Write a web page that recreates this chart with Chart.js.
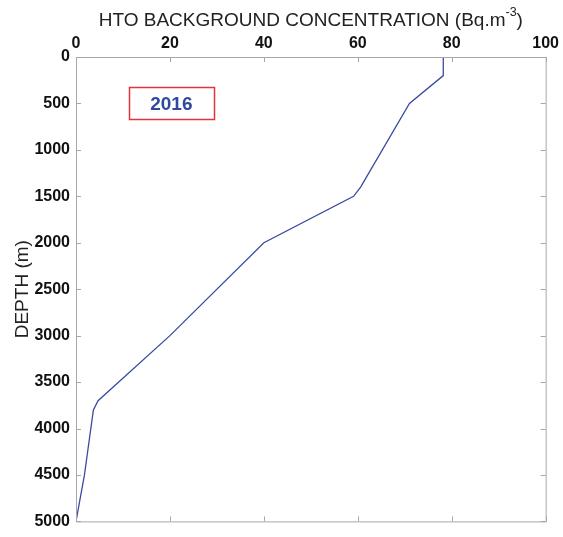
<!DOCTYPE html>
<html>
<head>
<meta charset="utf-8">
<script src="https://cdn.jsdelivr.net/npm/chart.js@4.4.1/dist/chart.umd.min.js"></script>
<style>
  html, body { margin: 0; padding: 0; background: #fff; }
  #wrap { width: 563px; height: 537px; }
</style>
</head>
<body>
<div id="wrap"><canvas id="profile"></canvas></div>
<script>
// HTO profile: concentration (Bq/m3) against depth (m)
const concentration = [78.2, 78.2, 71, 60.6, 59.1, 40, 20, 4.7, 3.7, 1.8, 0];
const depth = [0, 200, 500, 1400, 1500, 2000, 3000, 3700, 3800, 4500, 5000];
const xTicks = [0, 20, 40, 60, 80, 100];
const yTicks = [0, 500, 1000, 1500, 2000, 2500, 3000, 3500, 4000, 4500, 5000];
const yearLabel = "2016";
const yearAt = { x: 20.3, y: 500 };

const points = concentration.map((c, i) => ({ x: c, y: depth[i] }));
const FONT = "'Liberation Sans', Arial, sans-serif";

const frame = {
    id: "frame",
    afterDraw(chart) {
        const ctx = chart.ctx;
        const a = chart.chartArea;
        const xs = chart.scales.x, ys = chart.scales.y;
        ctx.save();

        // box round the plot
        ctx.strokeStyle = "#a8a8a8";
        ctx.lineWidth = 1;
        ctx.strokeRect(a.left + 0.5, a.top + 0.5, a.right - a.left, a.bottom - a.top);

        // inner tick marks on all four sides
        ctx.beginPath();
        xTicks.forEach(v => {
            const px = Math.round(xs.getPixelForValue(v)) + 0.5;
            ctx.moveTo(px, a.top); ctx.lineTo(px, a.top + 5);
            ctx.moveTo(px, a.bottom); ctx.lineTo(px, a.bottom - 5);
        });
        yTicks.forEach(v => {
            const py = Math.round(ys.getPixelForValue(v)) + 0.5;
            ctx.moveTo(a.left, py); ctx.lineTo(a.left + 5, py);
            ctx.moveTo(a.right, py); ctx.lineTo(a.right - 5, py);
        });
        ctx.stroke();

        // x title with superscript
        const mid = (a.left + a.right) / 2;
        const big = "19px " + FONT, small = "12.5px " + FONT;
        ctx.fillStyle = "#222";
        ctx.textBaseline = "alphabetic";
        ctx.textAlign = "left";
        const main = "HTO BACKGROUND CONCENTRATION (Bq.m";
        ctx.font = small;
        const supW = ctx.measureText("-3").width;
        ctx.font = big;
        const mainW = ctx.measureText(main).width;
        const closeW = ctx.measureText(")").width;
        const tx = mid - (mainW + supW + closeW) / 2;
        ctx.fillText(main, tx, 26);
        ctx.font = small;
        ctx.fillText("-3", tx + mainW, 16);
        ctx.font = big;
        ctx.fillText(")", tx + mainW + supW, 26);

        // y title
        ctx.save();
        ctx.translate(28, (a.top + a.bottom) / 2);
        ctx.rotate(-Math.PI / 2);
        ctx.textAlign = "center";
        ctx.font = "19px " + FONT;
        ctx.fillText("DEPTH (m)", 0, 0);
        ctx.restore();

        // year box
        const bx = xs.getPixelForValue(yearAt.x);
        const by = ys.getPixelForValue(yearAt.y);
        ctx.font = "bold 19px " + FONT;
        ctx.textAlign = "center";
        ctx.textBaseline = "middle";
        ctx.fillStyle = "#2f4a9c";
        ctx.fillText(yearLabel, bx, by + 1);
        ctx.strokeStyle = "#e0343a";
        ctx.lineWidth = 1.5;
        ctx.strokeRect(Math.round(bx - 42) + 0.5, Math.round(by - 16) + 0.5, 85, 32);

        ctx.restore();
    }
};

const tickFont = { family: FONT, size: 16, weight: "bold" };

new Chart(document.getElementById("profile"), {
    type: "scatter",
    data: {
        datasets: [{
            data: points,
            showLine: true,
            borderColor: "#3a4aa0",
            borderWidth: 1.3,
            pointRadius: 0,
            tension: 0
        }]
    },
    options: {
        responsive: true,
        maintainAspectRatio: false,
        animation: false,
        layout: { padding: { top: 0, right: 2, bottom: 8, left: 0 } },
        plugins: { legend: { display: false }, tooltip: { enabled: false } },
        scales: {
            x: {
                position: "top",
                min: 0, max: 100,
                afterBuildTicks: s => { s.ticks = xTicks.map(v => ({ value: v })); },
                afterFit: s => { s.height = 57; },
                grid: { display: false, drawTicks: false, tickLength: 0 },
                border: { display: false },
                ticks: { color: "#111", font: tickFont, padding: 4, maxRotation: 0, callback: v => String(v) }
            },
            y: {
                reverse: true,
                min: 0, max: 5000,
                afterBuildTicks: s => { s.ticks = yTicks.map(v => ({ value: v })); },
                afterFit: s => { s.width = 76; },
                grid: { display: false, drawTicks: false, tickLength: 0 },
                border: { display: false },
                ticks: { color: "#111", font: tickFont, padding: 6, callback: v => String(v) }
            }
        }
    },
    plugins: [frame]
});
</script>
</body>
</html>
